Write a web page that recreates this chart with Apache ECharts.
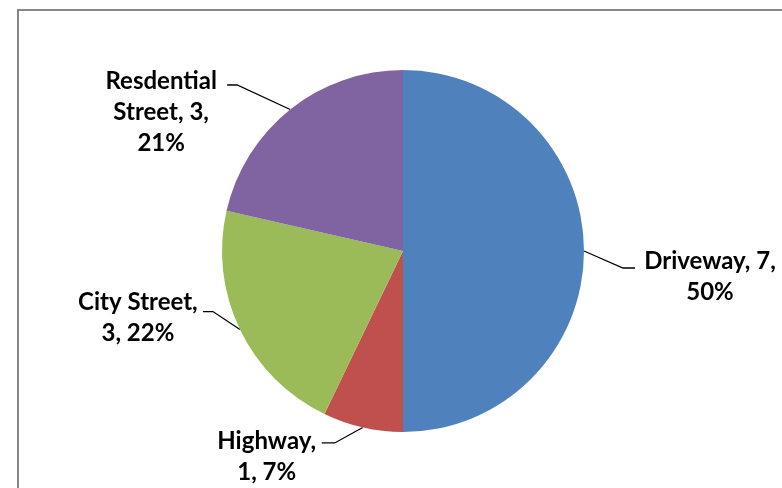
<!DOCTYPE html>
<html>
<head>
<meta charset="utf-8">
<style>
  html, body { margin: 0; padding: 0; background: #ffffff; }
  #chart { width: 782px; height: 488px; }
</style>
<script src="https://cdn.jsdelivr.net/npm/echarts@6/dist/echarts.min.js"></script>
</head>
<body>
<div id="chart"></div>
<script>
// Crash locations by road type
const categories = ['Driveway', 'Highway', 'City Street', 'Resdential Street'];
const counts = [7, 1, 3, 3];
const sliceColors = ['#4F81BD', '#C0504D', '#9BBB59', '#8064A2'];

// How each label wraps: {b} name, {c} count, {d} percent
const labelTemplates = [
  '{b}, {c},\n{d}%',
  '{b},\n{c}, {d}%',
  '{b},\n{c}, {d}%',
  '{b1}\n{b2}, {c},\n{d}%'
];

// Label placement relative to the leader's start on the slice edge:
// block centre, elbow of the leader, and its end next to the text
const labelPlacement = [
  { center: [126, 26],   elbow: [39, 17],    end: [51, 17] },
  { center: [-96, 29],   elbow: [-28, 15.5], end: [-41, 15.5] },
  { center: [-102, -12], elbow: [-27, -18],  end: [-37, -18] },
  { center: [-129, 2.5], elbow: [-53, -24.5], end: [-63, -24.5] }
];

const chart = echarts.init(document.getElementById('chart'), null, { renderer: 'canvas' });

chart.setOption({
  animation: false,
  backgroundColor: '#ffffff',
  graphic: [{
    type: 'rect',
    shape: { x: 18, y: 10, width: 800, height: 520 },
    style: { fill: 'none', stroke: '#878787', lineWidth: 2 },
    silent: true
  }],
  series: [{
    type: 'pie',
    center: [403, 251],
    radius: [0, 181],
    startAngle: 90,
    clockwise: true,
    percentPrecision: 0,
    avoidLabelOverlap: false,
    data: categories.map((name, i) => ({
      name: name,
      value: counts[i],
      itemStyle: { color: sliceColors[i] }
    })),
    label: {
      show: true,
      position: 'outside',
      fontFamily: 'Lato',
      fontWeight: 'bold',
      fontSize: 24,
      lineHeight: 31,
      color: '#000000',
      align: 'center',
      formatter: function (p) {
        const words = p.name.split(' ');
        return labelTemplates[p.dataIndex]
          .replace('{b1}', words[0])
          .replace('{b2}', words.slice(1).join(' '))
          .replace('{b}', p.name)
          .replace('{c}', p.value)
          .replace('{d}', p.percent);
      }
    },
    labelLine: {
      show: true,
      length: 10,
      length2: 10,
      lineStyle: { color: '#000000', width: 1.3 }
    },
    labelLayout: function (params) {
      const pl = labelPlacement[params.dataIndex];
      const start = params.labelLinePoints[0];
      return {
        x: start[0] + pl.center[0],
        y: start[1] + pl.center[1],
        align: 'center',
        verticalAlign: 'middle',
        labelLinePoints: [
          [start[0], start[1]],
          [start[0] + pl.elbow[0], start[1] + pl.elbow[1]],
          [start[0] + pl.end[0], start[1] + pl.end[1]]
        ]
      };
    },
    emphasis: { disabled: true }
  }]
});
</script>
</body>
</html>
